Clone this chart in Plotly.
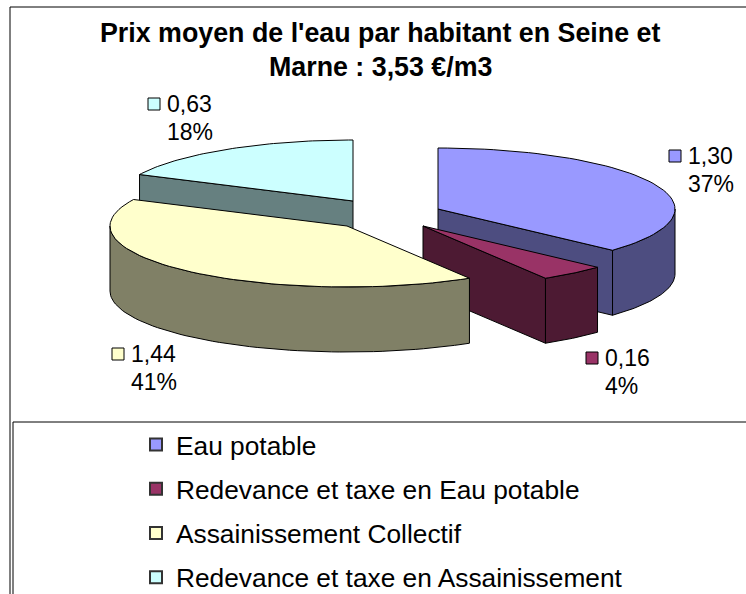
import numpy as np
import plotly.graph_objects as go

# --- data ---
categories = ["Eau potable", "Redevance et taxe en Eau potable",
              "Assainissement Collectif", "Redevance et taxe en Assainissement"]
values = [1.30, 0.16, 1.44, 0.63]
percent_labels = ["37%", "4%", "41%", "18%"]
title_lines = ["Prix moyen de l'eau par habitant en Seine et", "Marne : 3,53 €/m3"]

# --- styling / layout ---
top_colors = ["#9999FF", "#993366", "#FFFFCC", "#CCFFFF"]
side_colors = ["#4D4D80", "#4D1A33", "#808066", "#668080"]
RX, RY, DEPTH = 237, 61, 65
tips = [(438, 209), (423, 226), (347, 226), (353, 201)]      # exploded slice apexes
label_pos = [(668, 156), (585, 358), (111, 354), (147, 104)]  # swatch centre of each label

fracs = np.array(values) / sum(values)
edges = np.concatenate([[0], np.cumsum(fracs)]) * 360


def rim(tip, a0, a1, n=60):
    t = np.radians(np.linspace(a0, a1, n))
    return tip[0] + RX * np.sin(t), tip[1] - RY * np.cos(t)


fig = go.Figure()


def poly(xs, ys, color):
    fig.add_trace(go.Scatter(x=list(xs) + [xs[0]], y=list(ys) + [ys[0]], mode="lines", fill="toself",
                             fillcolor=color, line=dict(color="black", width=1),
                             hoverinfo="skip", showlegend=False))


def outer_face(i):
    a0, a1 = max(edges[i], 90), min(edges[i + 1], 270)
    if a1 <= a0:
        return
    x, y = rim(tips[i], a0, a1)
    poly(np.r_[x, x[::-1]], np.r_[y, y[::-1] + DEPTH], side_colors[i])


def cut_face(i, angle):
    x, y = rim(tips[i], angle, angle, 1)
    tx, ty = tips[i]
    poly([tx, x[0], x[0], tx], [ty, y[0], y[0] + DEPTH, ty + DEPTH], side_colors[i])


def top_face(i):
    x, y = rim(tips[i], edges[i], edges[i + 1])
    poly(np.r_[tips[i][0], x], np.r_[tips[i][1], y], top_colors[i])


# painter's order: back to front
cut_face(3, edges[3]); top_face(3)
cut_face(0, edges[1]); outer_face(0); top_face(0)
outer_face(1); cut_face(1, edges[2]); top_face(1)
outer_face(2); top_face(2)

# data-label swatches
fig.add_trace(go.Scatter(x=[p[0] + 7 for p in label_pos], y=[p[1] for p in label_pos], mode="markers",
                         marker=dict(symbol="square", size=12, color=top_colors,
                                     line=dict(color="black", width=1)),
                         hoverinfo="skip", showlegend=False))

# legend entries
for name, col in zip(categories, top_colors):
    fig.add_trace(go.Scatter(x=[None], y=[None], mode="markers", name=name, legendgroup=name,
                             marker=dict(symbol="square", size=15, color=col,
                                         line=dict(color="#333333", width=1))))

ann = []
FONT = "Liberation Sans"
for v, pct, (x, y) in zip(values, percent_labels, label_pos):
    txt = f"{v:.2f}".replace(".", ",")
    ann.append(dict(x=x + 18, y=y, text=txt, xanchor="left", yanchor="middle", showarrow=False,
                    font=dict(family=FONT, size=23, color="black")))
    ann.append(dict(x=x + 18, y=y + 28, text=pct, xanchor="left", yanchor="middle", showarrow=False,
                    font=dict(family=FONT, size=23, color="black")))
for line, y in zip(title_lines, [33, 67]):
    ann.append(dict(x=380, y=y, text=f"<b>{line}</b>", xanchor="center", yanchor="middle", showarrow=False,
                    font=dict(family=FONT, size=26.8, color="black")))

frame = dict(color="black", width=1)
shapes = [
    dict(type="line", x0=10, x1=746, y0=7, y1=7, line=frame),
    dict(type="line", x0=10, x1=10, y0=7, y1=594, line=frame),
    dict(type="line", x0=13, x1=746, y0=422, y1=422, line=frame),
    dict(type="line", x0=13, x1=13, y0=422, y1=594, line=frame),
]

fig.update_layout(
    width=746, height=594, margin=dict(l=0, r=0, t=0, b=0, pad=0, autoexpand=False),
    paper_bgcolor="white", plot_bgcolor="white",
    xaxis=dict(visible=False, range=[0, 746], fixedrange=True),
    yaxis=dict(visible=False, range=[594, 0], fixedrange=True),
    annotations=ann, shapes=shapes,
    legend=dict(x=136 / 746, y=1 - 421 / 594, xanchor="left", yanchor="top",
                font=dict(family=FONT, size=26.3, color="black"),
                tracegroupgap=7, bgcolor="rgba(0,0,0,0)", borderwidth=0,
                itemsizing="constant", itemclick=False, itemdoubleclick=False),
    showlegend=True,
)
fig.write_html("out.html", config=dict(displayModeBar=False),
               post_script="document.body.style.margin='0';")
